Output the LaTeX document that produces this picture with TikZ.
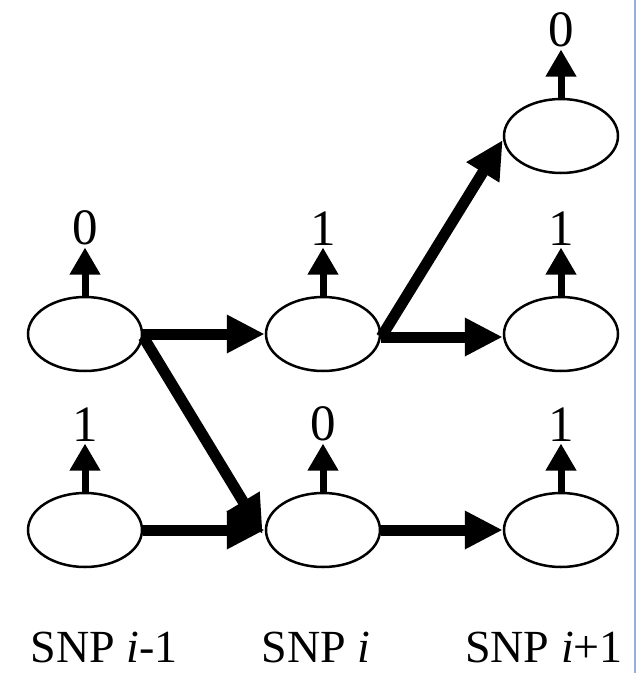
\documentclass[tikz,border=0pt]{standalone}
\usepackage{fontspec}
\setmainfont{Liberation Serif}
\usetikzlibrary{arrows.meta,shapes.geometric}
\begin{document}
\begin{tikzpicture}[x=1pt,y=-1pt,
  state/.style={ellipse,draw=black,line width=2.5pt,minimum width=114pt,minimum height=74pt,inner sep=0pt},
  lab/.style={inner sep=0pt,outer sep=2.5pt,font=\fontsize{51}{56}\selectfont},
  snpcaption/.style={inner sep=0pt,font=\fontsize{46}{54}\selectfont,anchor=base},
  bigarr/.style={line width=11pt,-{Triangle[length=38pt,width=36pt]}},
  smallarr/.style={line width=7pt,-{Triangle[length=27pt,width=29pt]}}]
\useasboundingbox (0,0) rectangle (638,673);
\fill[white] (0,0) rectangle (638,673);
\draw[line width=2.5pt,color={rgb,255:red,150;green,175;blue,225}] (635,0) -- (635,673);
% states
\node[state] (a1) at (85,334) {};
\node[state] (a2) at (85,530) {};
\node[state] (b1) at (323,334) {};
\node[state] (b2) at (323,530) {};
\node[state] (c0) at (561,136) {};
\node[state] (c1) at (561,334) {};
\node[state] (c2) at (561,530) {};
% emission labels
\node[lab,anchor=south] (la1) at (85,247.5) {0};
\node[lab,anchor=south] (la2) at (85,443.5) {1};
\node[lab,anchor=south] (lb1) at (323,247.5) {1};
\node[lab,anchor=south] (lb2) at (323,443.5) {0};
\node[lab,anchor=south] (lc0) at (561,49.5) {0};
\node[lab,anchor=south] (lc1) at (561,247.5) {1};
\node[lab,anchor=south] (lc2) at (561,443.5) {1};
\foreach \s in {a1,a2,b1,b2,c0,c1,c2}{
  \draw[smallarr] (\s.north) -- (l\s.south);
}
% transitions
\draw[bigarr] (a1.east) -- (b1.west);
\draw[bigarr] ([yshift=-3pt]a1.east) -- ([xshift=-2pt,yshift=-4pt]b2.west);
\draw[bigarr] (a2.east) -- (b2.west);
\draw[bigarr] ([yshift=-3pt]b1.east) -- ([yshift=-3pt]c1.west);
\draw[bigarr] ([yshift=-3pt]b1.east) -- ([yshift=-4pt]c0.west);
\draw[bigarr] (b2.east) -- (c2.west);
% captions
\node[snpcaption] (s1) at (104,662) {SNP \textit{i}-1};
\node[snpcaption] (s2) at (316,662) {SNP \textit{i}};
\node[snpcaption] (s3) at (544,662) {SNP \textit{i}+1};
\end{tikzpicture}
\end{document}
